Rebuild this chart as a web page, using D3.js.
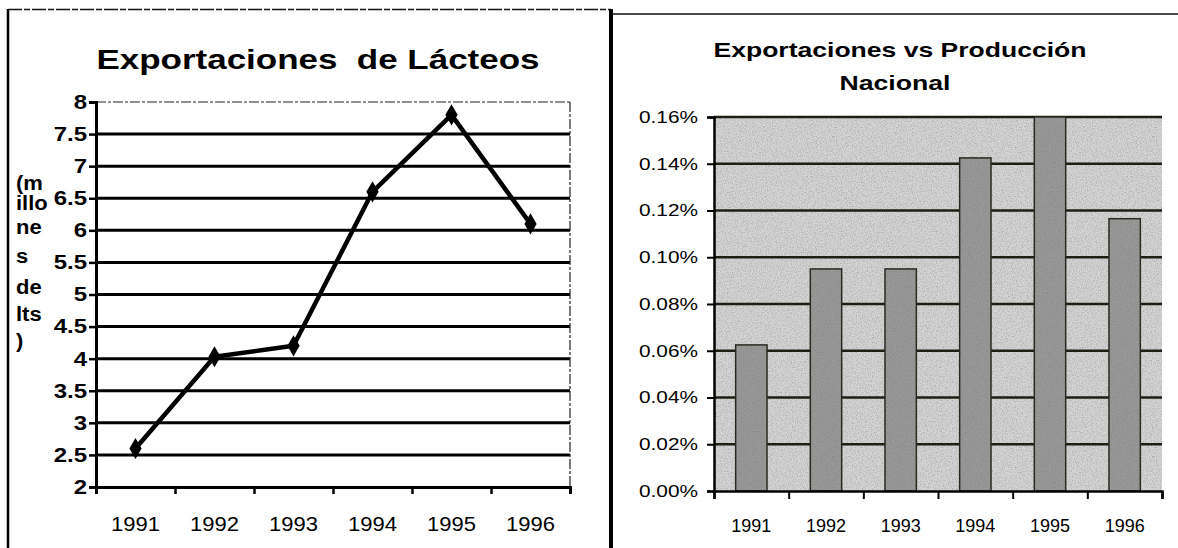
<!DOCTYPE html>
<html>
<head>
<meta charset="utf-8">
<script src="https://cdn.jsdelivr.net/npm/d3@7"></script>
<style>
  body { margin: 0; background: #fff; }
  svg { display: block; font-family: "Liberation Sans", Arial, sans-serif; }
  text { white-space: pre; }
</style>
</head>
<body>
<div id="chart"></div>
<script>
const years = ["1991", "1992", "1993", "1994", "1995", "1996"];
const exportValues = [2.6, 4.03, 4.2, 6.6, 7.8, 6.1];
const exportTicks = [2, 2.5, 3, 3.5, 4, 4.5, 5, 5.5, 6, 6.5, 7, 7.5, 8];
const sharePct = [0.0625, 0.095, 0.095, 0.1425, 0.16, 0.1165];
const shareTicks = [0, 0.02, 0.04, 0.06, 0.08, 0.1, 0.12, 0.14, 0.16];
const yLabelLines = ["(m", "illo", "ne", "s", "de", "lts", ")"];

const width = 1178, height = 548;
const font = "Liberation Sans, Arial, sans-serif";
const svg = d3.select("#chart").append("svg").attr("width", width).attr("height", height);

// the scanned original is a bit wider than the font, so stretch text sideways
function widen(sel, k) {
  sel.each(function () {
    const w = this.getComputedTextLength();
    d3.select(this).attr("textLength", w * k).attr("lengthAdjust", "spacingAndGlyphs");
  });
}

// grain, like the scanned original
const defs = svg.append("defs");
const grain = defs.append("filter").attr("id", "grain").attr("x", 0).attr("y", 0).attr("width", 1).attr("height", 1);
grain.append("feTurbulence").attr("type", "fractalNoise").attr("baseFrequency", 0.8).attr("numOctaves", 2).attr("seed", 3).attr("result", "n");
grain.append("feColorMatrix").attr("in", "n").attr("type", "matrix")
  .attr("values", "0 0 0 0 0.2  0 0 0 0 0.2  0 0 0 0 0.2  0 0 0 -1.3 0.75").attr("result", "m");
grain.append("feComposite").attr("in", "m").attr("in2", "SourceGraphic").attr("operator", "in").attr("result", "d");
grain.append("feMerge").call(m => {
  m.append("feMergeNode").attr("in", "SourceGraphic");
  m.append("feMergeNode").attr("in", "d");
});

// panel frames
svg.append("line").attr("x1", 8).attr("x2", 611).attr("y1", 9.5).attr("y2", 9.5)
  .attr("stroke", "#111").attr("stroke-width", 1.5).attr("stroke-dasharray", "14 2 6 2");
svg.append("line").attr("x1", 8).attr("x2", 8).attr("y1", 9).attr("y2", height)
  .attr("stroke", "#000").attr("stroke-width", 2.5);
svg.append("line").attr("x1", 611).attr("x2", 611).attr("y1", 9).attr("y2", height)
  .attr("stroke", "#000").attr("stroke-width", 4);
svg.append("line").attr("x1", 611).attr("x2", width).attr("y1", 14).attr("y2", 14)
  .attr("stroke", "#111").attr("stroke-width", 1.5);

// ---------- left: line chart ----------
const L = { left: 96, right: 570, top: 102, bottom: 487 };
const xL = d3.scaleBand().domain(years).range([L.left, L.right]);
const yL = d3.scaleLinear().domain([2, 8]).range([L.bottom, L.top]);
const gL = svg.append("g");

gL.append("text").attr("x", 318).attr("y", 69).attr("text-anchor", "middle")
  .attr("font-size", 28).attr("font-weight", "bold")
  .attr("textLength", 443).attr("lengthAdjust", "spacingAndGlyphs")
  .text("Exportaciones  de Lácteos");

// grid
gL.selectAll(".grid")
  .data(exportTicks.filter(d => d > 2 && d < 8))
  .join("line")
  .attr("x1", L.left).attr("x2", L.right)
  .attr("y1", d => yL(d)).attr("y2", d => yL(d))
  .attr("stroke", "#000").attr("stroke-width", 3);
gL.append("line").attr("x1", L.left).attr("x2", L.right).attr("y1", yL(8)).attr("y2", yL(8))
  .attr("stroke", "#222").attr("stroke-width", 1.2).attr("stroke-dasharray", "10 2 3 2");
gL.append("line").attr("x1", L.right).attr("x2", L.right).attr("y1", yL(8)).attr("y2", yL(2))
  .attr("stroke", "#222").attr("stroke-width", 1.2).attr("stroke-dasharray", "10 2 3 2");

// y axis
const axL = gL.append("g").attr("transform", `translate(${L.left},0)`)
  .call(d3.axisLeft(yL).tickValues(exportTicks).tickSize(7).tickFormat(d3.format("")));
axL.select(".domain").attr("stroke", "#000").attr("stroke-width", 3);
axL.selectAll(".tick line").attr("stroke", "#000").attr("stroke-width", 2.5);
axL.selectAll(".tick text").attr("font-size", 20).attr("font-weight", "bold")
  .attr("font-family", font).attr("fill", "#000").attr("x", -9).call(widen, 1.2);

// x axis: ticks at category edges, labels at centres
const xEdgesL = d3.scaleLinear().domain([0, years.length]).range([L.left, L.right]);
const axLx = gL.append("g").attr("transform", `translate(0,${L.bottom})`)
  .call(d3.axisBottom(xEdgesL).tickValues(d3.range(years.length + 1)).tickSize(7).tickFormat(""));
axLx.select(".domain").attr("stroke", "#000").attr("stroke-width", 3);
axLx.selectAll(".tick line").attr("stroke", "#000").attr("stroke-width", 2.5);
const labLx = gL.append("g").attr("transform", `translate(0,${L.bottom + 27})`)
  .call(d3.axisBottom(xL).tickSize(0));
labLx.select(".domain").remove();
labLx.selectAll(".tick text").attr("font-size", 20)
  .attr("font-family", font).attr("fill", "#000").call(widen, 1.1);

// y-axis title, wrapped as in the original
const yLabY = [183, 203, 227, 256, 287, 314, 341];
gL.selectAll(".ylab").data(yLabelLines).join("text")
  .attr("x", 16).attr("y", (d, i) => yLabY[i] + 7)
  .attr("font-size", 20).attr("font-weight", "bold").text(d => d).call(widen, 1.1);

// line + markers
const pts = years.map((y, i) => [xL(y) + xL.bandwidth() / 2, yL(exportValues[i])]);
gL.append("path").attr("d", d3.line()(pts)).attr("fill", "none")
  .attr("stroke", "#000").attr("stroke-width", 4.5).attr("stroke-linejoin", "round");
gL.selectAll(".pt").data(pts).join("path")
  .attr("transform", d => `translate(${d[0]},${d[1]})`)
  .attr("d", d3.symbol(d3.symbolDiamond, 130)).attr("fill", "#000");

// ---------- right: bar chart ----------
const R = { left: 714, right: 1162, top: 117, bottom: 491 };
const xR = d3.scaleBand().domain(years).range([R.left, R.right]).paddingInner(0.58).paddingOuter(0.29);
const yR = d3.scaleLinear().domain([0, 0.16]).range([R.bottom, R.top]);
const gR = svg.append("g");

gR.append("text").attr("x", 900).attr("y", 57).attr("text-anchor", "middle")
  .attr("font-size", 21).attr("font-weight", "bold")
  .attr("textLength", 373).attr("lengthAdjust", "spacingAndGlyphs")
  .text("Exportaciones vs Producción");
gR.append("text").attr("x", 895).attr("y", 90).attr("text-anchor", "middle")
  .attr("font-size", 21).attr("font-weight", "bold")
  .attr("textLength", 111).attr("lengthAdjust", "spacingAndGlyphs")
  .text("Nacional");

gR.append("rect").attr("x", R.left).attr("y", R.top)
  .attr("width", R.right - R.left).attr("height", R.bottom - R.top)
  .attr("fill", "#d4d4d4").attr("filter", "url(#grain)");

gR.selectAll(".grid").data(shareTicks.filter(d => d > 0)).join("line")
  .attr("x1", R.left).attr("x2", R.right)
  .attr("y1", d => yR(d)).attr("y2", d => yR(d))
  .attr("stroke", "#1e1e12").attr("stroke-width", 2.5);

gR.selectAll(".bar").data(sharePct).join("rect")
  .attr("x", (d, i) => xR(years[i]))
  .attr("y", d => yR(d))
  .attr("width", xR.bandwidth())
  .attr("height", d => yR(0) - yR(d))
  .attr("fill", "#989898").attr("filter", "url(#grain)");
gR.selectAll(".barline").data(sharePct).join("rect")
  .attr("x", (d, i) => xR(years[i]))
  .attr("y", d => yR(d))
  .attr("width", xR.bandwidth())
  .attr("height", d => yR(0) - yR(d))
  .attr("fill", "none").attr("stroke", "#2a2a20").attr("stroke-width", 1.5);

const axR = gR.append("g").attr("transform", `translate(${R.left},0)`)
  .call(d3.axisLeft(yR).tickValues(shareTicks).tickSize(7).tickFormat(d => d.toFixed(2) + "%"));
axR.select(".domain").attr("stroke", "#000").attr("stroke-width", 2.5);
axR.selectAll(".tick line").attr("stroke", "#000").attr("stroke-width", 2);
axR.selectAll(".tick text").attr("font-size", 17)
  .attr("font-family", font).attr("fill", "#000").attr("x", -16)
  .attr("textLength", 59).attr("lengthAdjust", "spacingAndGlyphs");

const xEdgesR = d3.scaleLinear().domain([0, years.length]).range([R.left, R.right]);
const axRx = gR.append("g").attr("transform", `translate(0,${R.bottom})`)
  .call(d3.axisBottom(xEdgesR).tickValues(d3.range(years.length + 1)).tickSize(8).tickFormat(""));
axRx.select(".domain").attr("stroke", "#000").attr("stroke-width", 2.5);
axRx.selectAll(".tick line").attr("stroke", "#000").attr("stroke-width", 2);
const labRx = gR.append("g").attr("transform", `translate(0,${R.bottom + 25})`)
  .call(d3.axisBottom(xR).tickSize(0));
labRx.select(".domain").remove();
labRx.selectAll(".tick text").attr("font-size", 18)
  .attr("font-family", font).attr("fill", "#000");
</script>
</body>
</html>
